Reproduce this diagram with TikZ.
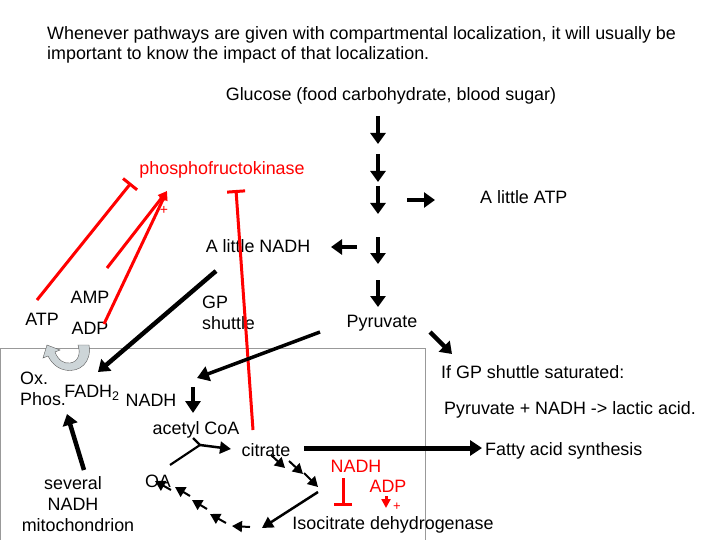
\documentclass[tikz,border=0pt]{standalone}
\usepackage{fontspec}
\setmainfont{Liberation Sans}
\usetikzlibrary{arrows.meta}
\begin{document}
\begin{tikzpicture}[x=1pt,y=-1pt,
  txt/.style={font=\fontsize{17.9}{21}\selectfont,inner sep=0pt},
  rtxt/.style={txt,text=red},
  thk/.style={line width=4.5pt,-{Triangle[length=11pt,width=15pt]}},
  med/.style={line width=3.5pt,-{Triangle[length=12pt,width=15pt]}},
  thn/.style={line width=2.5pt,-{Triangle[length=11pt,width=12pt]}},
  inh/.style={red,line width=3pt,-{Bar[width=18pt,line width=3pt]}},
  act/.style={red,line width=3pt,-{Triangle[length=9pt,width=9pt]}},
  dsh/.style={line width=2pt,-{Triangle[length=10pt,width=11pt]}}]
\useasboundingbox (0,0) rectangle (720,540);
\draw[gray!80,line width=0.8pt] (0,348) rectangle (425,540);
\node[txt,anchor=west] (t1) at (47,35) {Whenever pathways are given with compartmental localization, it will usually be};
\node[txt,anchor=west] (t2) at (47,55) {important to know the impact of that localization.};
\node[txt] (glc) at (391,96) {Glucose (food carbohydrate, blood sugar)};
% glycolysis arrows
\foreach \a/\b [count=\i] in {116/144,154/182,186/214,237/264,280/307}{
  \coordinate (g\i a) at (378,\a); \coordinate (g\i b) at (378,\b);
  \draw[thk] (g\i a) -- (g\i b);}
\coordinate (atpS) at (407,200); \coordinate (atpE) at (435,200);
\draw[thk] (atpS) -- (atpE);
\coordinate (nS) at (357,247); \coordinate (nE) at (331,247);
\draw[thk] (nS) -- (nE);
\node[txt,anchor=west] (latp) at (480,197) {A little ATP};
\node[txt] (lnadh) at (258,246) {A little NADH};
\node[rtxt] (pfk) at (222,170) {phosphofructokinase};
\node[txt] (amp) at (90,297) {AMP};
\node[txt] (atp) at (42,319) {ATP};
\node[txt] (adp) at (90,328) {ADP};
\node[txt,anchor=west,align=left] (gp) at (202,313) {GP\\shuttle};
\node[txt] (pyr) at (382,323) {Pyruvate};
% red regulation
\coordinate (atpI) at (37,300); \coordinate (atpI2) at (131,183);
\draw[inh] (atpI) -- (atpI2);
\coordinate (ampA) at (107,268); \coordinate (pfkA) at (167,191);
\draw[act] (ampA) -- (pfkA);
\coordinate (adpA) at (104,324);
\draw[act] (adpA) -- (pfkA);
\node[rtxt,font=\fontsize{14}{14}\selectfont] (plus1) at (164,210) {+};
\coordinate (citI) at (253,430); \coordinate (citI2) at (236,190);
\draw[inh] (citI) -- (citI2);
% black arrows
\coordinate (n1) at (216,271); \coordinate (n2) at (98,372);
\draw[thk] (n1) -- (n2);
\coordinate (p1) at (320,332); \coordinate (p2) at (197,378);
\draw[med] (p1) -- (p2);
\coordinate (q1) at (430,332); \coordinate (q2) at (452,354);
\draw[thk] (q1) -- (q2);
% recycle curved arrow
\fill[cyan!15!gray!40,draw=gray!70!black,line width=0.4pt]
  (78,345) -- (89,345) .. controls (92,362) and (80,373) .. (65,370)
  .. controls (55,368) and (50,360) .. (48,356) -- (43,358) -- (47,345) -- (60,350) -- (55,352)
  .. controls (58,360) and (64,364) .. (70,363) .. controls (78,362) and (81,354) .. (78,345) -- cycle;
\node[txt,align=left,anchor=west] (ox) at (20,389) {Ox.\\Phos.};
\node[txt] (fadh) at (92,393) {FADH\textsubscript{2}};
\node[txt] (nadh2) at (151,400) {NADH};
\coordinate (d1) at (193,387); \coordinate (d2) at (193,413);
\draw[med] (d1) -- (d2);
\coordinate (s1) at (84,470); \coordinate (s2) at (67,414);
\draw[thk] (s1) -- (s2);
\node[txt,align=center] (sev) at (73,494) {several\\NADH};
\node[txt] (mito) at (78,525) {mitochondrion};
\node[txt] (acoa) at (196,430) {acetyl CoA};
\node[txt] (cit) at (266,450) {citrate};
\node[txt] (oa) at (158,481) {OA};
\node[txt] (icd) at (393,525) {Isocitrate dehydrogenase};
% TCA
\coordinate (oa1) at (170,465); \coordinate (j) at (200,445);
\coordinate (ac1) at (193,438); \coordinate (c1) at (231,449);
\draw[line width=2.2pt] (oa1) -- (j) -- (ac1);
\draw[thn] (j) -- (c1);
\coordinate (f1) at (304,448); \coordinate (f2) at (482,448);
\draw[line width=5pt,-{Triangle[length=12pt,width=15pt]}] (f1) -- (f2);
\foreach \x/\y/\u/\v in {271/455/285/468, 289/461/303/474, 304/473/318/487,
  250/527/232/526, 226/523/210/514, 207/509/192/500, 190/496/175/487, 171/490/155/481}
  \draw[dsh] (\x,\y) -- (\u,\v);
\coordinate (r1) at (318,492); \coordinate (r2) at (262,528);
\draw[thn] (r1) -- (r2);
\node[rtxt] (rn) at (356,466) {NADH};
\coordinate (rn1) at (343,478); \coordinate (rn2) at (343,506);
\draw[inh] (rn1) -- (rn2);
\node[rtxt] (radp) at (388,486) {ADP};
\coordinate (ra1) at (386,496); \coordinate (ra2) at (386,508);
\draw[act] (ra1) -- (ra2);
\node[rtxt,font=\fontsize{13}{13}\selectfont] (plus2) at (397,507) {+};
\node[txt,anchor=west] (gps) at (441,372) {If GP shuttle saturated:};
\node[txt,anchor=west] (lac) at (444,410) {Pyruvate + NADH -> lactic acid.};
\node[txt,anchor=west] (fas) at (485,451) {Fatty acid synthesis};
\end{tikzpicture}
\end{document}
